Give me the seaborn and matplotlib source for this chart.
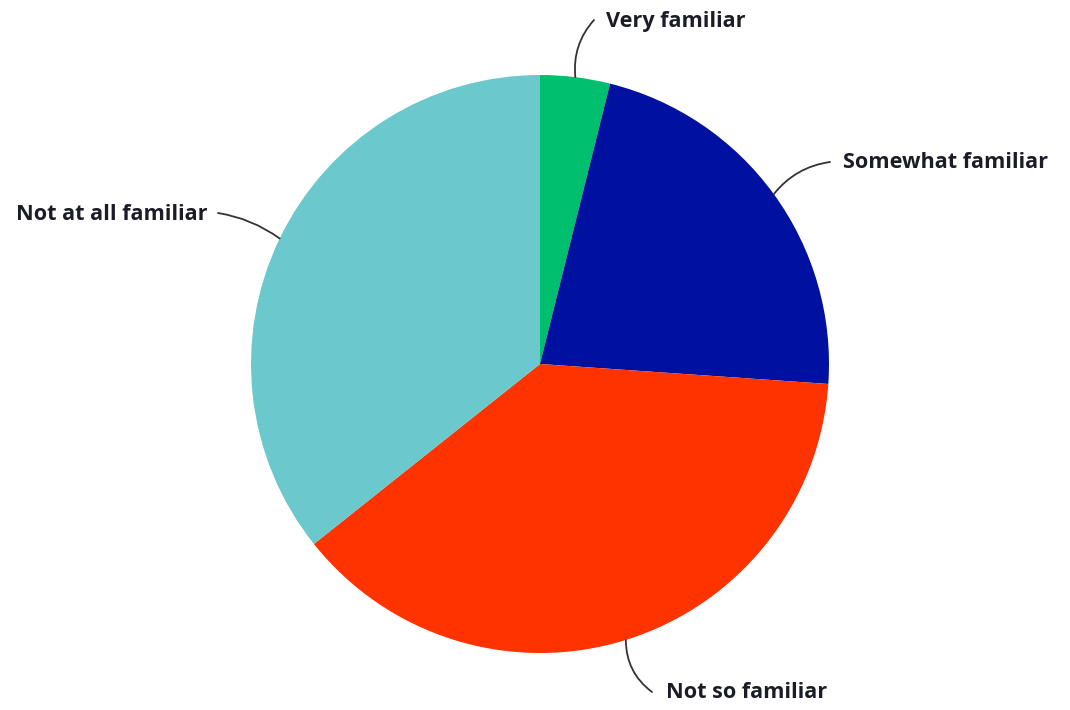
import numpy as np
import matplotlib
matplotlib.use("Agg")
import matplotlib.pyplot as plt
import seaborn as sns

# Survey answers: how familiar respondents are with the topic (share of responses, %)
categories = ["Very familiar", "Somewhat familiar", "Not so familiar", "Not at all familiar"]
shares = [3.9, 22.2, 38.2, 35.7]
colors = ["#00BF6F", "#0010A0", "#FF3300", "#6BC8CD"]

sns.set_theme(style="white")
plt.rcParams["font.family"] = ["Open Sans", "DejaVu Sans"]

W, H = 1070, 710
fig = plt.figure(figsize=(W / 100, H / 100), dpi=100)
ax = fig.add_axes([0, 0, 1, 1])

cx, cy, r = 540, H - 364, 289
wedges, _ = ax.pie(shares, colors=colors, startangle=90, counterclock=False,
                   center=(cx, cy), radius=r, frame=True,
                   wedgeprops=dict(linewidth=0))
ax.set_xlim(0, W)
ax.set_ylim(0, H)
ax.set_aspect("equal")
ax.axis("off")

# label placement: text x, text y (top-down pixels), alignment, leader end, curvature
label_layout = {
    "Very familiar": (606, 21, "left", (594, 20), 0.22),
    "Somewhat familiar": (843, 163, "left", (830, 162), 0.2),
    "Not so familiar": (666, 693, "left", (652, 692), -0.25),
    "Not at all familiar": (208, 214, "right", (218, 213), -0.12),
}

for w, name in zip(wedges, categories):
    mid = np.deg2rad((w.theta1 + w.theta2) / 2)
    anchor = (cx + r * np.cos(mid), cy + r * np.sin(mid))
    tx, ty, ha, (ex, ey), rad = label_layout[name]
    ax.annotate("", xy=anchor, xytext=(ex, H - ey),
                arrowprops=dict(arrowstyle="-", color="#333333", lw=1.3,
                                shrinkA=0, shrinkB=0,
                                connectionstyle=f"arc3,rad={rad}"))
    ax.text(tx, H - ty, name, ha=ha, va="center", fontsize=15.6,
            fontweight="bold", color="#1c1c28")

fig.savefig("out.png", dpi=100, facecolor="white")
